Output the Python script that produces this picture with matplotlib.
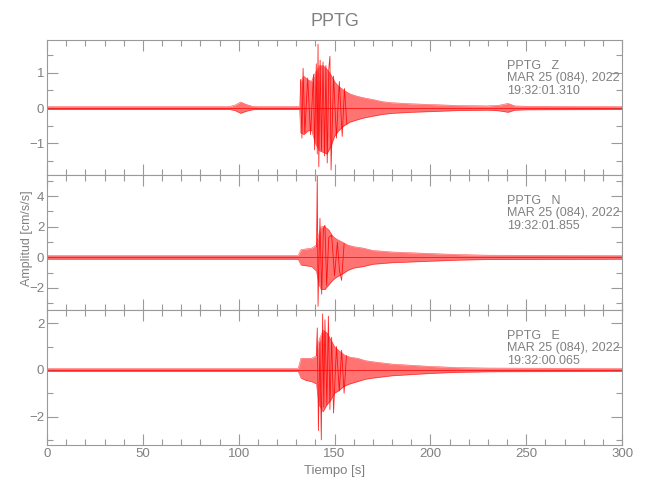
import matplotlib
matplotlib.use("Agg")
import matplotlib.pyplot as plt
from matplotlib.ticker import MultipleLocator

plt.rcParams['font.family'] = ['Liberation Sans Narrow', 'Liberation Sans', 'DejaVu Sans']

GRAY = '#808080'
AXGRAY = '#9a9a9a'
RED = '#ff0000'

# station / components
station = "PPTG"
components = ["Z", "N", "E"]
dates = ["MAR 25 (084), 2022"] * 3
start_times = ["19:32:01.310", "19:32:01.855", "19:32:00.065"]

# --- Z component: envelope (time s, upper, lower)
z_t = [0, 95, 98, 101, 104, 107, 110, 131.8, 132.3, 134, 136, 138, 140, 142, 144, 146,
       148, 150, 152, 155, 158, 162, 166, 170, 175, 180, 190, 200, 215, 230, 236, 240.5,
       244, 250, 300]
z_up = [0.04, 0.04, 0.08, 0.17, 0.1, 0.05, 0.04, 0.04, 0.75, 0.9, 0.8, 0.75, 1.0, 1.2,
        1.2, 1.1, 0.95, 0.75, 0.62, 0.5, 0.4, 0.33, 0.28, 0.24, 0.18, 0.15, 0.12, 0.1,
        0.07, 0.06, 0.08, 0.13, 0.06, 0.05, 0.04]
z_lo = [-0.04, -0.04, -0.07, -0.15, -0.09, -0.05, -0.04, -0.04, -0.7, -0.75, -0.65,
        -0.62, -1.0, -1.2, -1.25, -1.3, -1.1, -0.8, -0.65, -0.5, -0.4, -0.33, -0.27,
        -0.23, -0.18, -0.15, -0.12, -0.1, -0.07, -0.06, -0.08, -0.12, -0.06, -0.05, -0.04]
# largest swings
z_spk_t = [132.2, 133.0, 133.6, 134.5, 136.0, 137.5, 139.0, 139.6, 140.5, 141.0, 141.4,
           141.8, 142.5, 143.2, 144.0, 144.8, 145.5, 146.2, 147.0, 147.6, 148.2, 149.5,
           151.0, 152.5, 154.0, 155.2, 156.4]
z_spk_v = [0.8, -0.85, 1.12, -0.7, 0.85, -0.75, 0.95, -1.18, 1.25, -1.3, 1.8, -1.66,
           1.35, -1.2, 1.3, -1.35, 1.2, -1.55, 1.1, 1.46, -1.75, 0.9, -0.85, 0.75, -0.8,
           0.55, -0.45]

# --- N component
n_t = [0, 131, 132.5, 135, 138, 140.5, 142, 143, 145, 147, 149, 151, 154, 157, 160, 165,
       170, 175, 180, 190, 200, 215, 230, 300]
n_up = [0.12, 0.12, 0.5, 0.55, 0.6, 0.8, 1.6, 2.0, 2.0, 1.8, 1.4, 1.2, 1.0, 0.8, 0.7,
        0.6, 0.45, 0.4, 0.35, 0.3, 0.25, 0.18, 0.14, 0.12]
n_lo = [-0.12, -0.12, -0.5, -0.55, -0.6, -0.9, -1.8, -2.1, -2.1, -1.8, -1.5, -1.3, -1.1,
        -0.85, -0.7, -0.6, -0.45, -0.4, -0.35, -0.3, -0.25, -0.18, -0.14, -0.12]
n_spk_t = [140.6, 141.0, 141.4, 142.4, 143.3, 144.2, 145.0, 145.9, 147.0, 148.5, 150.0,
           151.5, 152.6, 153.7, 155.0]
n_spk_v = [0.7, 5.4, -3.2, 2.55, -2.4, 1.9, 2.1, -1.85, 1.3, 1.45, -1.2, 1.0, -0.9,
           -1.5, 0.9]

# --- E component
e_t = [0, 131, 132.5, 135, 138, 140.5, 142, 144, 146, 148, 150, 152, 155, 158, 162, 166,
       170, 175, 180, 190, 200, 215, 230, 300]
e_up = [0.06, 0.06, 0.5, 0.5, 0.5, 0.6, 1.3, 1.7, 1.6, 1.3, 1.0, 0.85, 0.65, 0.55, 0.5,
        0.4, 0.35, 0.3, 0.25, 0.2, 0.15, 0.1, 0.08, 0.06]
e_lo = [-0.06, -0.06, -0.35, -0.45, -0.5, -0.6, -1.5, -1.8, -1.5, -1.3, -1.0, -0.9,
        -0.7, -0.6, -0.5, -0.4, -0.35, -0.3, -0.25, -0.2, -0.15, -0.1, -0.08, -0.06]
e_spk_t = [140.5, 141.0, 141.6, 142.4, 143.1, 143.8, 144.4, 145.0, 146.0, 146.8, 147.6,
           148.5, 149.5, 151.0, 152.5, 153.7, 155.0, 156.2]
e_spk_v = [0.6, 1.8, -2.6, 1.2, -3.0, 2.4, -1.6, 2.15, -1.5, 2.3, -1.7, 1.4, -1.85,
           1.0, -0.9, 0.85, -1.0, 0.6]

ylims = [(-1.89, 1.92), (-3.44, 5.38), (-3.22, 2.57)]
ymajor = [1, 2, 2]
yminor = [0.5, 1, 1]

traces = [(z_t, z_up, z_lo, z_spk_t, z_spk_v),
          (n_t, n_up, n_lo, n_spk_t, n_spk_v),
          (e_t, e_up, e_lo, e_spk_t, e_spk_v)]

fig, axs = plt.subplots(3, 1, figsize=(6.5, 5), dpi=100, sharex=True)
fig.subplots_adjust(left=0.0723, right=0.957, top=0.92, bottom=0.11, hspace=0)

for i, ax in enumerate(axs):
    t, up, lo, st, sv = traces[i]
    ax.fill_between(t, lo, up, color=RED, alpha=0.55, lw=0)
    ax.plot(t, up, color=RED, lw=0.4, alpha=0.7)
    ax.plot(t, lo, color=RED, lw=0.4, alpha=0.7)
    ax.plot(st, sv, color=RED, lw=0.6, alpha=0.85)
    ax.axhline(0, color=RED, lw=0.5)

    ax.set_xlim(0, 300)
    ax.set_ylim(*ylims[i])
    ax.yaxis.set_major_locator(MultipleLocator(ymajor[i]))
    ax.yaxis.set_minor_locator(MultipleLocator(yminor[i]))
    ax.xaxis.set_major_locator(MultipleLocator(50))
    ax.xaxis.set_minor_locator(MultipleLocator(10))
    ax.tick_params(which='both', direction='in', top=True, right=True,
                   colors=AXGRAY, labelcolor=GRAY, labelsize=9.5, pad=2)
    ax.tick_params(which='major', length=8, width=0.8)
    ax.tick_params(which='minor', length=4, width=0.8)
    for s in ax.spines.values():
        s.set_color(AXGRAY)
        s.set_linewidth(0.8)

    ax.text(0.80, 0.855, f"{station}   {components[i]}\n{dates[i]}\n{start_times[i]}",
            transform=ax.transAxes, ha='left', va='top', color=GRAY, fontsize=9,
            linespacing=1.1)

axs[0].set_title(station, color=GRAY, fontsize=13, pad=10)
axs[1].set_ylabel("Amplitud [cm/s/s]", color=GRAY, fontsize=9)
axs[1].yaxis.set_label_coords(-0.024, 0.53)
axs[2].set_xlabel("Tiempo [s]", color=GRAY, fontsize=9.5, labelpad=4)

fig.savefig("out.png", dpi=100)
